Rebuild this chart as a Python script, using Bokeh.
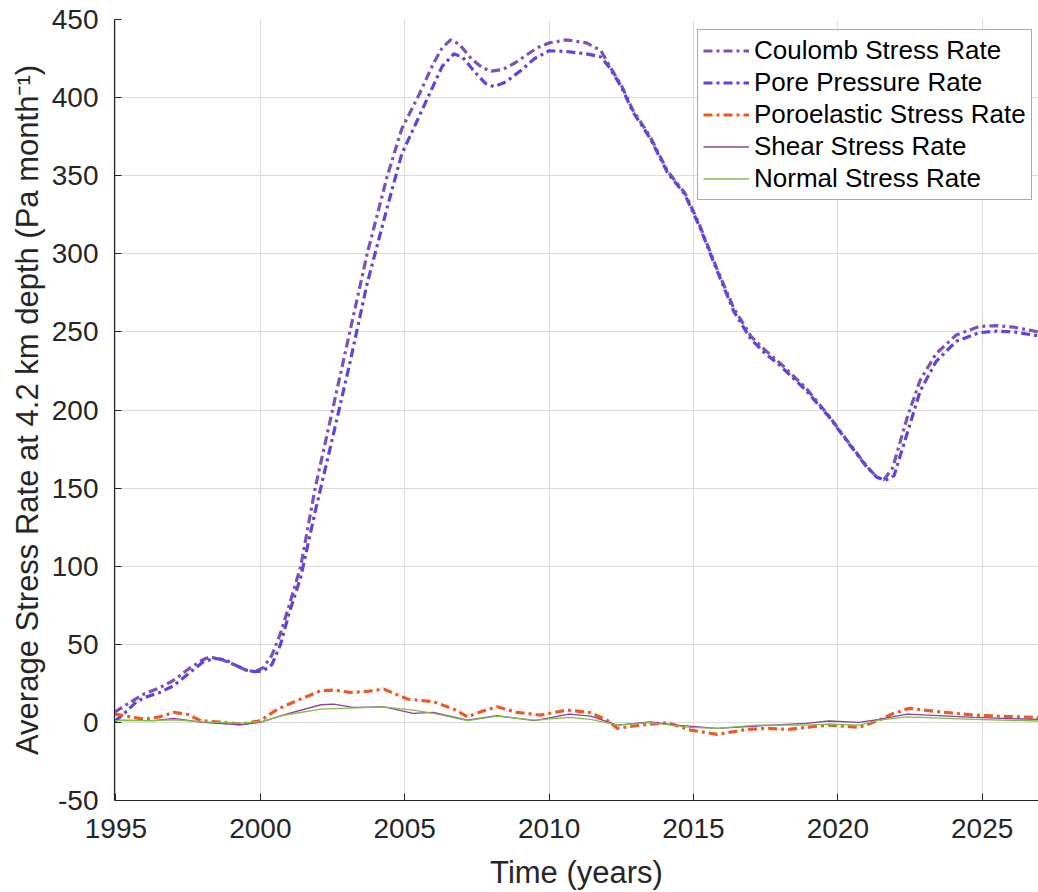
from bokeh.plotting import figure
from bokeh.models import Range1d, Legend, LegendItem, SingleIntervalTicker
from bokeh.embed import file_html
from bokeh.resources import INLINE

# ---- data ----
coulomb_years = [1994.95, 1995.5, 1996.0, 1996.5, 1997.0, 1997.5, 1998.0, 1998.25, 1998.7, 1999.1,
                 1999.5, 1999.8, 2000.1, 2000.4, 2000.7, 2001.0, 2001.4, 2001.9, 2002.5, 2003.1,
                 2003.7, 2004.4, 2004.9, 2005.5, 2006.0, 2006.3, 2006.6, 2006.9, 2007.3, 2007.7,
                 2008.0, 2008.4, 2008.8, 2009.2, 2009.6, 2010.0, 2010.6, 2011.3, 2011.8, 2012.1,
                 2012.5, 2012.9, 2013.5, 2014.1, 2014.7, 2015.2, 2015.8, 2016.4, 2017.0, 2017.5,
                 2018.0, 2018.9, 2019.7, 2020.3, 2021.0, 2021.35, 2021.6, 2021.9, 2022.4, 2022.85,
                 2023.4, 2024.1, 2024.9, 2025.5, 2026.1, 2026.95]
coulomb_rate = [6.5, 13, 18.5, 22, 27, 34, 40, 42, 40, 37,
                33.5, 32.5, 35, 43, 57, 75, 100, 150, 200, 250,
                300, 350, 380, 402, 422, 432, 437, 434, 425, 419,
                417, 418, 422, 427, 432, 435, 437, 435, 430, 420,
                408, 392, 375, 353, 339, 319, 291, 265, 247, 238,
                230, 214, 196, 181, 164, 157, 155.5, 163, 195, 219,
                236, 248, 253.5, 254, 253, 250]

pore_years = [1994.95, 1995.3, 1995.7, 1996.0, 1996.5, 1997.0, 1997.5, 1998.0, 1998.4, 1998.8,
              1999.1, 1999.5, 1999.8, 2000.1, 2000.4, 2000.7, 2001.0, 2001.4, 2001.9, 2002.5,
              2003.1, 2003.7, 2004.4, 2004.9, 2005.5, 2006.0, 2006.3, 2006.7, 2007.0, 2007.4,
              2007.8, 2008.1, 2008.5, 2009.0, 2009.5, 2010.0, 2010.6, 2011.3, 2011.8, 2012.1,
              2012.5, 2012.9, 2013.5, 2014.1, 2014.7, 2015.2, 2015.8, 2016.4, 2017.0, 2017.5,
              2018.0, 2018.9, 2019.7, 2020.3, 2021.0, 2021.35, 2021.65, 2021.95, 2022.4, 2022.85,
              2023.4, 2024.1, 2024.9, 2025.5, 2026.1, 2026.95]
pore_rate = [0.5, 6, 13, 16, 19, 23.5, 31, 38.5, 41, 40,
             37, 33.5, 32.5, 33, 37, 50, 70, 93, 135, 182,
             230, 281, 330, 364, 388, 408, 420, 428, 426, 417,
             409, 407, 410, 417, 425, 430, 429.5, 428, 426, 419,
             407, 391, 374, 352, 338, 318, 290, 263, 245, 236,
             228.5, 212.5, 195.5, 180.5, 163.5, 157, 155, 158, 185, 212,
             231, 244, 249.5, 250.5, 250, 247.5]

poro_years = [1994.95, 1995.5, 1996.0, 1996.5, 1997.0, 1997.5, 1997.94, 1998.6, 1999.33, 2000.0,
              2000.6, 2001.4, 2002.1, 2002.55, 2003.1, 2003.7, 2004.28, 2005.09, 2006.01, 2006.7,
              2007.17, 2007.74, 2008.2, 2008.9, 2009.7, 2010.63, 2011.44, 2012.0, 2012.36, 2013.17,
              2014.09, 2014.9, 2015.82, 2016.86, 2017.6, 2018.3, 2019.0, 2019.7, 2020.74, 2021.43,
              2021.9, 2022.47, 2023.5, 2024.7, 2025.8, 2026.95]
poro_rate = [5.5, 3.5, 2.1, 3.5, 6.4, 5.0, 1.1, 0.2, -1.1, 1.1,
             8.5, 15, 20.3, 20.7, 19.2, 19.8, 21.3, 15, 13.2, 8.5,
             3.6, 7.5, 10, 6.4, 4.7, 7.9, 6.2, 1.5, -3.8, -1.7,
             -0.2, -4.9, -7.7, -4.5, -3.8, -4.5, -3.0, -1.7, -3.2, 1.5,
             5.5, 9, 6.8, 4.7, 3.8, 3.2]

shear_years = [1994.95, 1996.3, 1997.0, 1998.0, 1999.33, 2000.0, 2000.9, 2002.1, 2002.55, 2003.2,
               2004.28, 2005.3, 2006.0, 2007.17, 2008.2, 2009.5, 2010.7, 2011.44, 2012.36, 2013.5,
               2014.4, 2015.82, 2017.2, 2018.9, 2019.7, 2020.74, 2021.43, 2022.4, 2024.7, 2026.95]
shear_rate = [1.5, 1.1, 2.6, 0.0, -1.5, 0.0, 5.3, 11.3, 11.7, 9.6,
              10, 5.8, 6.4, 1.5, 4.3, 1.1, 5.3, 4.0, -1.7, 0.4,
              -1.7, -3.8, -2.3, -0.6, 0.9, 0.0, 1.9, 5.3, 3.2, 1.9]

normal_years = [1994.95, 1996.3, 1997.0, 1998.0, 1999.33, 2000.0, 2000.9, 2002.1, 2003.1, 2004.28,
                2005.3, 2006.0, 2007.17, 2008.2, 2009.5, 2010.7, 2011.44, 2012.36, 2013.5, 2014.9,
                2015.82, 2017.2, 2018.9, 2019.7, 2020.74, 2021.43, 2022.4, 2024.7, 2026.95]
normal_rate = [1.1, 1.1, 1.7, 0.4, -0.4, 0.4, 4.9, 8.5, 9.2, 10,
               7.9, 5.8, 1.1, 4.0, 1.5, 3.2, 1.9, -1.7, -0.2, -3.2,
               -3.8, -1.7, -1.7, -1.1, -1.7, 1.5, 3.6, 1.9, 0.9]

series_names = ["Coulomb Stress Rate", "Pore Pressure Rate", "Poroelastic Stress Rate",
                "Shear Stress Rate", "Normal Stress Rate"]
x_ticks = [1995, 2000, 2005, 2010, 2015, 2020, 2025]

FONT = "Liberation Sans"
TXT = "#262626"

p = figure(width=1038, height=892, output_backend="svg", toolbar_location=None,
           x_range=Range1d(1994.95, 2026.95), y_range=Range1d(-50, 450),
           min_border_left=114, min_border_right=0, min_border_top=19, min_border_bottom=92)
p.outline_line_color = None
p.background_fill_color = "white"
p.border_fill_color = "white"

for ax in (p.xaxis[0], p.yaxis[0]):
    ax.axis_line_color = TXT
    ax.axis_line_width = 1.2
    ax.major_tick_line_color = TXT
    ax.major_tick_in = 7
    ax.major_tick_out = 0
    ax.minor_tick_line_color = None
    ax.major_label_text_font = FONT
    ax.major_label_text_font_size = "28px"
    ax.major_label_text_color = TXT
    ax.axis_label_text_font = FONT
    ax.axis_label_text_font_size = "31px"
    ax.axis_label_text_font_style = "normal"
    ax.axis_label_text_color = TXT

p.xaxis.ticker = x_ticks
p.yaxis.ticker = SingleIntervalTicker(interval=50)
p.yaxis.major_label_overrides = {-50: "-50"}
p.xaxis.axis_label = "Time (years)"
p.yaxis.axis_label = "Average Stress Rate at 4.2 km depth (Pa month\u207b\u00b9)"
p.xaxis.major_label_standoff = 18
p.yaxis.major_label_standoff = 12
p.xaxis.axis_label_standoff = 14
p.yaxis.axis_label_standoff = 4

p.xgrid.ticker = x_ticks
p.grid.grid_line_color = "#dcdcdc"
p.grid.grid_line_width = 1

dashdot = "9 4 3 4"
r1 = p.line(coulomb_years, coulomb_rate, line_color="#7b52b9", line_width=3.2, line_dash=dashdot)
r2 = p.line(pore_years, pore_rate, line_color="#5a45de", line_width=3.2, line_dash=dashdot)
r3 = p.line(poro_years, poro_rate, line_color="#ec5a25", line_width=3.2, line_dash=dashdot)
r4 = p.line(shear_years, shear_rate, line_color="#8e3fa3", line_width=1.3)
r5 = p.line(normal_years, normal_rate, line_color="#82bd4a", line_width=1.3)

legend = Legend(items=[LegendItem(label=n, renderers=[r]) for n, r in
                       zip(series_names, [r1, r2, r3, r4, r5])],
                location=(583, 600))
legend.label_text_font = FONT
legend.label_text_font_size = "26px"
legend.label_text_color = "black"
legend.border_line_color = "#555555"
legend.border_line_width = 1.3
legend.background_fill_alpha = 1
legend.glyph_width = 46
legend.glyph_height = 29
legend.label_height = 29
legend.label_standoff = 5
legend.spacing = 1
legend.padding = 5
legend.margin = 0
p.add_layout(legend)

open("out.html", "w").write(file_html(p, INLINE))
